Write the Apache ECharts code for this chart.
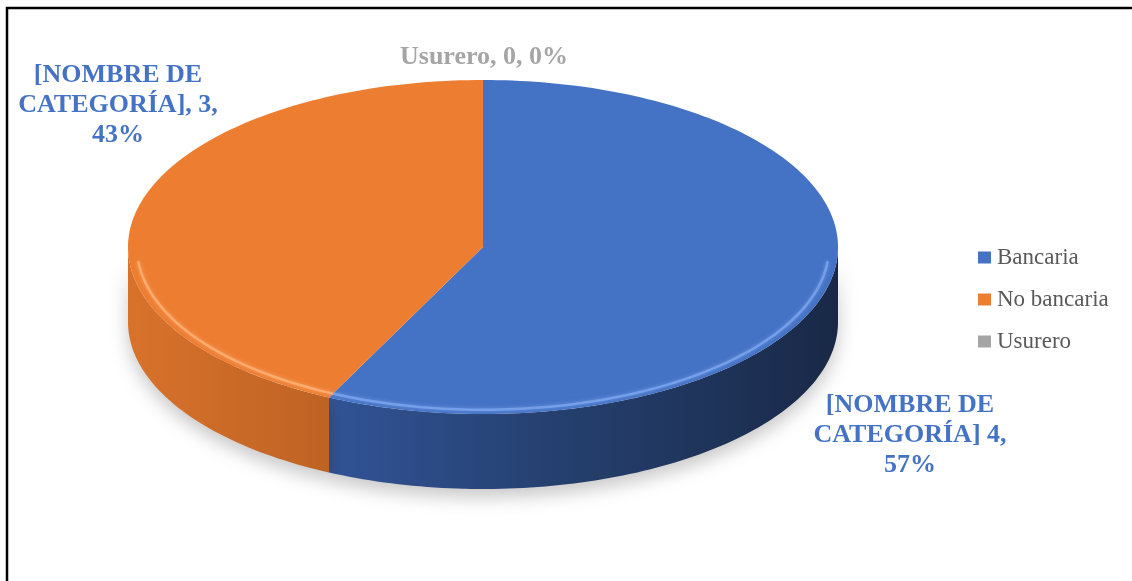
<!DOCTYPE html>
<html>
<head>
<meta charset="utf-8">
<script src="https://cdn.jsdelivr.net/npm/echarts@6/dist/echarts.min.js"></script>
<style>
  html, body { margin: 0; padding: 0; background: #ffffff; }
  #chart { width: 1132px; height: 581px; }
</style>
</head>
<body>
<div id="chart"></div>
<script>
// Data
const categories = ['Bancaria', 'No bancaria', 'Usurero'];
const values = [4, 3, 0];
const labelPrefixes = ['[NOMBRE DE\nCATEGORÍA] ', '[NOMBRE DE\nCATEGORÍA], ', 'Usurero, '];
const labelJoins = [',\n', ',\n', ', '];

// Styles
const topColors = ['#4472C4', '#ED7D31', '#A5A5A5'];
const sideStops = [
  ['#3d69b5', '#2f4f8e', '#25406f', '#1e3257', '#192846'],
  ['#d8722b', '#b85f22', '#9a4f1c', '#7f4118', '#6a3614'],
  ['#9a9a9a', '#7f7f7f', '#6a6a6a', '#575757', '#474747']
];
const rimColors = ['rgba(125,165,238,0.85)', 'rgba(255,176,118,0.85)', 'rgba(215,215,215,0.85)'];
const labelColors = ['#4472C4', '#4472C4', '#A5A5A5'];
const labelAnchors = [[910, 435], [118, 105], [484, 57]];

// Elliptical disc geometry (pixels)
const geo = { cx: 483, cy: 247, rx: 355, ry: 167, depth: 75 };
const total = values.reduce((a, b) => a + b, 0);

// phi: degrees clockwise from 12 o'clock
function pt(phi, inset, off) {
  const r = phi * Math.PI / 180;
  const k = inset || 0;
  return [geo.cx + (geo.rx - k) * Math.sin(r),
          geo.cy - (geo.ry - k * geo.ry / geo.rx) * Math.cos(r) + (off || 0)];
}
function arc(a0, a1, inset, off) {
  const n = Math.max(2, Math.ceil(Math.abs(a1 - a0) / 1.2));
  const out = [];
  for (let i = 0; i <= n; i++) out.push(pt(a0 + (a1 - a0) * i / n, inset, off));
  return out;
}

function sliceRange(i) {
  let before = 0;
  for (let j = 0; j < i; j++) before += values[j];
  const a0 = before / total * 360;
  return [a0, a0 + values[i] / total * 360];
}

function renderSlice(params, api) {
  const i = params.seriesIndex;
  const v = api.value(0);
  const children = [];
  const [a0, a1] = sliceRange(i);
  if (v > 0) {
    // front side wall
    const s0 = Math.max(a0, 90), s1 = Math.min(a1, 270);
    if (s1 > s0) {
      const stops = sideStops[i];
      children.push({
        type: 'polygon', z2: 1,
        shape: { points: arc(s0, s1, 0, 0).concat(arc(s1, s0, 0, geo.depth)) },
        style: {
          fill: {
            type: 'linear', x: geo.cx - geo.rx, y: 0, x2: geo.cx + geo.rx, y2: 0, global: true,
            colorStops: stops.map((c, k) => ({ offset: [0, 0.35, 0.6, 0.85, 1][k], color: c }))
          },
          shadowBlur: 18, shadowOffsetY: 8, shadowColor: 'rgba(0,0,0,0.22)'
        }
      });
    }
    // top face
    children.push({
      type: 'polygon', z2: 10,
      shape: { points: [[geo.cx, geo.cy]].concat(arc(a0, a1, 0, 0)) },
      style: { fill: topColors[i] }
    });
    // bevel highlight along the front rim
    const h0 = Math.max(a0, 95), h1 = Math.min(a1, 265);
    if (h1 > h0) {
      children.push({
        type: 'polyline', z2: 11,
        shape: { points: arc(h0, h1, 9, 0) },
        style: { stroke: rimColors[i], lineWidth: 2.5, fill: null,
                 shadowBlur: 4, shadowColor: rimColors[i] }
      });
    }
  }
  // data label
  const pct = total ? Math.round(v / total * 100) : 0;
  children.push({
    type: 'text', z2: 20,
    x: labelAnchors[i][0], y: labelAnchors[i][1],
    style: {
      text: labelPrefixes[i] + v + labelJoins[i] + pct + '%',
      fill: labelColors[i],
      font: 'bold 26px "Liberation Serif", "Times New Roman", serif',
      lineHeight: 30,
      align: 'center', verticalAlign: 'middle'
    }
  });
  return { type: 'group', children: children };
}

const chart = echarts.init(document.getElementById('chart'), null, { renderer: 'canvas' });
chart.setOption({
  animation: false,
  backgroundColor: '#ffffff',
  graphic: [{
    type: 'rect', z: 100,
    shape: { x: 7, y: 8, width: 1140, height: 600 },
    style: { fill: null, stroke: '#000000', lineWidth: 2.5 }
  }],
  legend: {
    orient: 'vertical',
    left: 973, top: 241,
    itemWidth: 13, itemHeight: 12, itemGap: 19,
    icon: 'rect',
    data: categories,
    textStyle: { fontFamily: '"Liberation Serif", "Times New Roman", serif', fontSize: 23, color: '#595959', padding: [0, 0, 0, 1] }
  },
  series: categories.map((name, i) => ({
    type: 'custom',
    name: name,
    coordinateSystem: 'none',
    itemStyle: { color: topColors[i] },
    renderItem: renderSlice,
    data: [[values[i]]]
  }))
});
</script>
</body>
</html>
